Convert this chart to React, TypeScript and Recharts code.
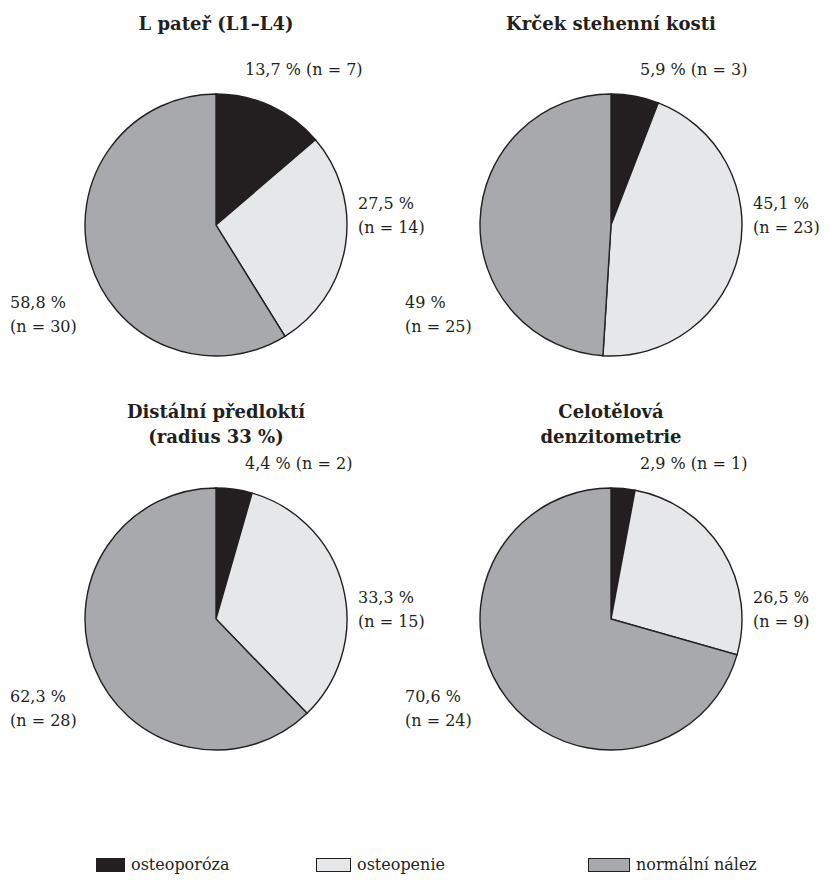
import React from "react"
import { PieChart, Pie, Cell, Legend } from "recharts"

// categories shared by all four panels
const categories = ["osteoporóza", "osteopenie", "normální nález"]
const colors = ["#231f20", "#e6e7e8", "#a7a9ac"]

// patient counts per category
const lumbarN = [7, 14, 30]
const femoralNeckN = [3, 23, 25]
const forearmN = [2, 15, 28]
const wholeBodyN = [1, 9, 24]

// printed percentages
const lumbarPct = ["13,7", "27,5", "58,8"]
const femoralNeckPct = ["5,9", "45,1", "49"]
const forearmPct = ["4,4", "33,3", "62,3"]
const wholeBodyPct = ["2,9", "26,5", "70,6"]

const titles = [
  ["L pateř (L1–L4)"],
  ["Krček stehenní kosti"],
  ["Distální předloktí", "(radius 33 %)"],
  ["Celotělová", "denzitometrie"],
]

const FONT = "'DejaVu Serif', serif"
const R = 131

const panels = [
  { cx: 216, cy: 225, n: lumbarN, pct: lumbarPct, title: titles[0] },
  { cx: 611, cy: 225, n: femoralNeckN, pct: femoralNeckPct, title: titles[1] },
  { cx: 216, cy: 619, n: forearmN, pct: forearmPct, title: titles[2] },
  { cx: 611, cy: 619, n: wholeBodyN, pct: wholeBodyPct, title: titles[3] },
]

const makeLabel = (p: (typeof panels)[number]) => (props: any) => {
  const i = props.index
  const txt = { fontFamily: FONT, fontSize: 16, fill: "#231f20" }
  const pct = `${p.pct[i]} %`
  const n = `(n = ${p.n[i]})`
  if (i === 0) {
    return (
      <text x={p.cx + 29} y={p.cy - 150} {...txt}>
        {`${pct} ${n}`}
      </text>
    )
  }
  const x = i === 1 ? p.cx + 142 : p.cx - 206
  const y = i === 1 ? p.cy - 16 : p.cy + 83
  return (
    <text x={x} y={y} {...txt}>
      <tspan x={x}>{pct}</tspan>
      <tspan x={x} dy={24}>{n}</tspan>
    </text>
  )
}

const legendX = [[96, 131], [316, 357], [588, 636]]

function LegendRow() {
  return (
    <div style={{ position: "relative", width: 836, height: 20 }}>
      {categories.map((c, i) => (
        <React.Fragment key={c}>
          <div
            style={{
              position: "absolute",
              left: legendX[i][0],
              top: 3,
              width: legendX[i][1] - legendX[i][0] - 6,
              height: 14,
              background: colors[i],
              border: "1px solid #231f20",
              boxSizing: "border-box",
            }}
          />
          <div
            style={{
              position: "absolute",
              left: legendX[i][1],
              top: 0,
              fontFamily: FONT,
              fontSize: 16,
              lineHeight: "20px",
              color: "#231f20",
              whiteSpace: "nowrap",
            }}
          >
            {c}
          </div>
        </React.Fragment>
      ))}
    </div>
  )
}

export default function App() {
  return (
    <div style={{ position: "absolute", left: 0, top: 0, width: 836, height: 880, background: "#fff" }}>
      {panels.map((p, k) => (
        <div
          key={k}
          style={{
            position: "absolute",
            left: p.cx - 200,
            width: 400,
            top: p.title.length === 1 ? 11 : 399,
            textAlign: "center",
            fontFamily: FONT,
            fontWeight: 700,
            fontSize: 18,
            lineHeight: "25px",
            color: "#231f20",
          }}
        >
          {p.title.map((t) => (
            <div key={t}>{t}</div>
          ))}
        </div>
      ))}
      <PieChart
        width={836}
        height={880}
        margin={{ top: 0, right: 0, bottom: 0, left: 0 }}
        style={{ position: "absolute", left: 0, top: 0 }}
      >
        {panels.map((p, k) => (
          <Pie
            key={k}
            data={categories.map((name, i) => ({ name, value: p.n[i] }))}
            dataKey="value"
            nameKey="name"
            cx={p.cx}
            cy={p.cy}
            outerRadius={R}
            startAngle={90}
            endAngle={-270}
            stroke="#231f20"
            strokeWidth={1.4}
            label={makeLabel(p)}
            labelLine={false}
            isAnimationActive={false}
          >
            {categories.map((c, i) => (
              <Cell key={c} fill={colors[i]} />
            ))}
          </Pie>
        ))}
        <Legend
          content={() => <LegendRow />}
          wrapperStyle={{ position: "absolute", left: 0, top: 855, width: 836 }}
        />
      </PieChart>
    </div>
  )
}
